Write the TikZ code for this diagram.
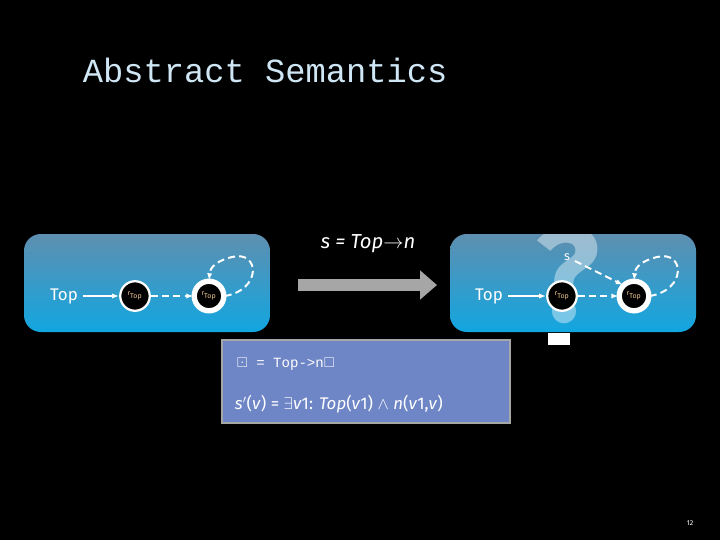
\documentclass[tikz,border=0pt]{standalone}
\usepackage{amssymb}
\usepackage{fontspec}
\setmainfont{Fira Sans}
\setmonofont{Liberation Mono}
\usetikzlibrary{arrows.meta,positioning}
\definecolor{panelTop}{HTML}{5E8FB0}
\definecolor{panelBot}{HTML}{12A6E0}
\definecolor{boxFill}{HTML}{6F86C6}
\definecolor{rText}{HTML}{F0C890}
\definecolor{titleCol}{HTML}{CFE6F5}
\tikzset{
  panel/.style={rounded corners=12pt,top color=panelTop,bottom color=panelBot,draw=none},
  summ/.style={circle,fill=black,draw=white,line width=1.6pt,minimum size=21pt,inner sep=0pt,text=rText,font=\tiny},
  summd/.style={summ,double=white,double distance=1.2pt,line width=1.3pt},
  lbl/.style={text=white,font=\large},
  solidarr/.style={white,line width=1.4pt,-{Latex[length=5pt]}},
  dasharr/.style={white,line width=1.4pt,dashed,dash pattern=on 5pt off 3pt,-{Latex[length=5pt]}}
}
\begin{document}
\begin{tikzpicture}[x=0.025cm,y=-0.025cm]
  \useasboundingbox[fill=black] (0,0) rectangle (720,540);
  \node[anchor=west,text=titleCol,font=\ttfamily\fontsize{24}{28}\selectfont] (title) at (78,70) {Abstract Semantics};
  % left panel
  \fill[panel] (24,234) rectangle (270,332);
  \node[lbl] (topA) at (64,296) {Top};
  \node[summ] (rA1) at (135,296) {r\textsubscript{Top}};
  \node[summd] (rA2) at (209,296) {r\textsubscript{Top}};
  \draw[solidarr] (topA) -- (rA1);
  \draw[dasharr] (rA1) -- (rA2);
  \draw[dasharr] (rA2.east) .. controls (262,290) and (260,250) .. (232,257) .. controls (212,262) and (210,270) .. (rA2.north);
  % transformer arrow
  \node[text=white,font=\Large\itshape] (act) at (368,244) {s = Top$\rightarrow$n};
  \coordinate (arrS) at (298,285);
  \coordinate (arrE) at (437,285);
  \draw[gray!70,line width=8pt,-{Triangle[length=12pt,width=20pt]}] (arrS) -- (arrE);
  % right panel
  \fill[panel] (450,234) rectangle (696,332);
  \begin{scope}
    \clip (450,234) rectangle (696,332);
    \node[text=white,opacity=0.4,font=\fontsize{95}{95}\selectfont\bfseries,anchor=north] (qm) at (568,222) {?};
  \end{scope}
  \fill[white] (548,333) rectangle (570,345);
  \node[lbl] (topB) at (489,296) {Top};
  \node[summ] (rB1) at (562,296) {r\textsubscript{Top}};
  \node[summd] (rB2) at (634,296) {r\textsubscript{Top}};
  \node[text=white,font=\small] (sB) at (567,257) {s};
  \draw[solidarr] (topB) -- (rB1);
  \draw[dasharr] (rB1) -- (rB2);
  \draw[dasharr] (sB) -- (rB2.north west);
  \draw[dasharr] (rB2.east) .. controls (687,290) and (685,250) .. (657,257) .. controls (637,262) and (635,270) .. (rB2.north);
  % formula box
  \draw[fill=boxFill,draw=gray!70,line width=1.5pt] (222,340) rectangle (510,423);
  \node[anchor=west,text=white,font=\ttfamily] (fA) at (232,364) {$\boxdot$ = Top->n$\square$};
  \node[anchor=west,text=white,font=\large] (fB) at (230,404) {\textit{s}$'$(\textit{v}) = $\exists$\textit{v}1: \textit{Top}(\textit{v}1) $\wedge$ \textit{n}(\textit{v}1,\textit{v})};
  \node[text=white,font=\tiny] (pg) at (690,523) {12};
\end{tikzpicture}
\end{document}
